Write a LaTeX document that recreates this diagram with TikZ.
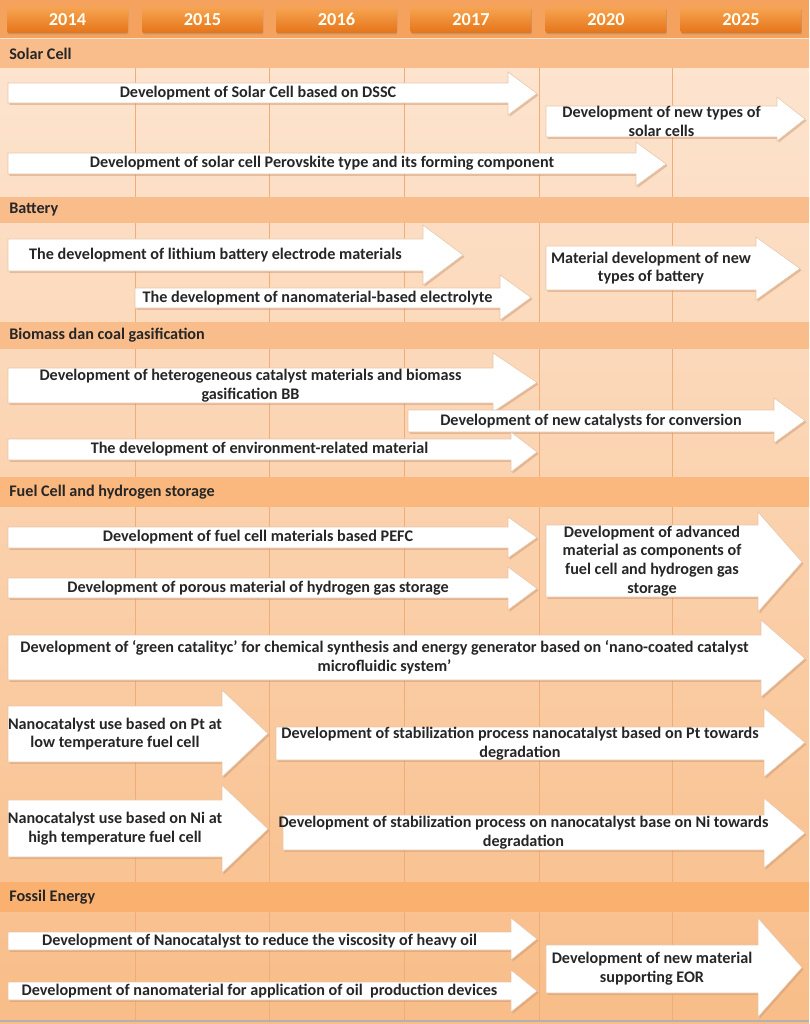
\documentclass[tikz,border=0pt]{standalone}
\usepackage{fontspec}
\setmainfont{Carlito}
\usetikzlibrary{shadows}

\definecolor{bandorange}{HTML}{F4A25E}
\definecolor{yeartop}{HTML}{F7A552}
\definecolor{yearbot}{HTML}{E5741A}
\definecolor{secband}{HTML}{F9BD8C}
\definecolor{bodytop}{HTML}{FDE5D1}
\definecolor{bodybot}{HTML}{F8BD88}
\definecolor{gridline}{HTML}{F0AD78}
\definecolor{arredge}{HTML}{E6C6AA}
\definecolor{arrshade}{HTML}{C9916A}
\definecolor{txtdark}{HTML}{262626}

% white block arrow: name, x left, x neck, x tip, y body top, y body bottom,
% y head top, y head bottom, text
\newcommand{\tlarrow}[9]{%
  \fill[arrshadow] (#2,#5) -- (#3,#5) -- (#3,#7) -- (#4,{(#7+#8)/2})
    -- (#3,#8) -- (#3,#6) -- (#2,#6) -- cycle;
  \path[arrbody] (#2,#5) -- (#3,#5) -- (#3,#7) -- (#4,{(#7+#8)/2})
    -- (#3,#8) -- (#3,#6) -- (#2,#6) -- cycle;
  \node[lbl] (#1) at ({(#2+#3)/2},{(#5+#6)/2}) {#9};
}

\begin{document}
\begin{tikzpicture}[
  x=0.025cm, y=-0.025cm,
  every node/.style={font=\bfseries\fontsize{11.5}{13.3}\selectfont, text=txtdark},
  yearbox/.style={rectangle, rounded corners=1.5pt, top color=yeartop,
                  bottom color=yearbot, minimum width=3.02cm, minimum height=0.65cm,
                  inner sep=0pt, text=white!95!yellow, text height=1.6ex, text depth=0pt,
                  font=\bfseries\fontsize{13}{15}\selectfont,
                  drop shadow={shadow xshift=0.4pt, shadow yshift=-1pt, opacity=0.4}},
  sechead/.style={anchor=west, inner sep=0pt},
  lbl/.style={align=center, inner sep=0pt},
  arrbody/.style={fill=white, draw=arredge, line width=0.4pt, line join=miter},
  arrshadow/.style={arrshade, opacity=0.45, xshift=1.1pt, yshift=-1.3pt},
  grid/.style={gridline, line width=0.5pt},
]
\useasboundingbox (0,0) rectangle (809,1024);

% background
\fill[bandorange] (0,0) rectangle (809,38);
\shade[top color=bodytop, bottom color=bodybot] (0,39) rectangle (809,1024);
\fill[secband] (0,39) rectangle (809,68);
\fill[secband] (0,197) rectangle (809,223);
\fill[secband] (0,322) rectangle (809,349);
\fill[secband!90!orange] (0,477) rectangle (809,507);
\fill[secband!80!orange] (0,882) rectangle (809,912);
\draw[white!70!bandorange, line width=0.8pt] (0,38.5) -- (809,38.5);
\draw[gray!60, line width=0.8pt] (0,1021) -- (809,1021);

% column lines
\draw[grid] (135,68) -- (135,197) (269,68) -- (269,197) (404,68) -- (404,197)
  (539,68) -- (539,197) (672,68) -- (672,197);
\draw[grid] (135,223) -- (135,322) (269,223) -- (269,322) (404,223) -- (404,322)
  (539,223) -- (539,322) (672,223) -- (672,322);
\draw[grid] (135,349) -- (135,477) (269,349) -- (269,477) (404,349) -- (404,477)
  (539,349) -- (539,477) (672,349) -- (672,477);
\draw[grid] (135,507) -- (135,882) (269,507) -- (269,882) (404,507) -- (404,882)
  (539,507) -- (539,882) (672,507) -- (672,882);
\draw[grid] (135,912) -- (135,1020) (269,912) -- (269,1020) (404,912) -- (404,1020)
  (539,912) -- (539,1020) (672,912) -- (672,1020);

% years
\node[yearbox] (y2014) at (67.5,20) {2014};
\node[yearbox] (y2015) at (202.5,20) {2015};
\node[yearbox] (y2016) at (336.5,20) {2016};
\node[yearbox] (y2017) at (471,20) {2017};
\node[yearbox] (y2020) at (606,20) {2020};
\node[yearbox] (y2025) at (741,20) {2025};

% section titles
\node[sechead] (solar) at (9,53.5) {Solar Cell};
\node[sechead] (battery) at (9,210) {Battery};
\node[sechead] (biomass) at (9,335.5) {Biomass dan coal gasification};
\node[sechead] (fuelcell) at (9,492) {Fuel Cell and hydrogen storage};
\node[sechead] (fossil) at (9,897) {Fossil Energy};

% Solar Cell
\tlarrow{dssc}{8}{508}{537}{83}{103}{72}{115}{Development of Solar Cell based on DSSC}
\tlarrow{newsolar}{546}{777}{805}{106}{137}{97}{141}{Development of new types of\\solar cells}
\tlarrow{perov}{8}{636}{666}{153}{174}{142}{186}{Development of solar cell Perovskite type and its forming component}

% Battery
\tlarrow{lithium}{8}{423}{463}{239}{271}{225}{285}{The development of lithium battery electrode materials}
\tlarrow{electro}{135}{500}{531}{288}{308}{275}{320}{The development of nanomaterial-based electrolyte}
\tlarrow{newbatt}{546}{756}{800}{246}{290}{237}{300}{Material development of new\\types of battery}

% Biomass
\tlarrow{hetcat}{8}{493}{537}{368}{403}{353}{412}{Development of heterogeneous catalyst materials and biomass\\gasification BB}
\tlarrow{newcat}{408}{774}{805}{410}{432}{398}{443}{Development of new catalysts for conversion}
\tlarrow{envmat}{8}{511}{537}{439}{460}{432}{472}{The development of environment-related material}

% Fuel Cell
\tlarrow{pefc}{8}{508}{537}{527}{548}{517}{558}{Development of fuel cell materials based PEFC}
\tlarrow{porous}{8}{508}{537}{578}{598}{567}{610}{Development of porous material of hydrogen gas storage}
\tlarrow{advmat}{546}{758}{802}{525}{597}{512}{612}{Development of advanced\\material as components of\\fuel cell and hydrogen gas\\storage}
\tlarrow{green}{8}{761}{805}{635}{680}{620}{697}{Development of ‘green catalityc’ for chemical synthesis and energy generator based on ‘nano-coated catalyst\\microfluidic system’}
\tlarrow{ptuse}{8}{222}{268}{706}{762}{690}{777}{Nanocatalyst use based on Pt at\\low temperature fuel cell}
\tlarrow{ptstab}{276}{764}{805}{727}{760}{708}{777}{Development of stabilization process nanocatalyst based on Pt towards\\degradation}
\tlarrow{niuse}{8}{222}{268}{800}{857}{785}{873}{Nanocatalyst use based on Ni at\\high temperature fuel cell}
\tlarrow{nistab}{283}{764}{805}{815}{850}{798}{868}{Development of stabilization process on nanocatalyst base on Ni towards\\degradation}

% Fossil Energy
\tlarrow{viscous}{8}{511}{537}{932}{950}{918}{960}{Development of Nanocatalyst to reduce the viscosity of heavy oil}
\tlarrow{oildev}{8}{511}{537}{982}{1000}{970}{1012}{Development of nanomaterial for application of oil\ \ production devices}
\tlarrow{eor}{546}{758}{802}{945}{993}{918}{1017}{Development of new material\\supporting EOR}

\end{tikzpicture}
\end{document}
